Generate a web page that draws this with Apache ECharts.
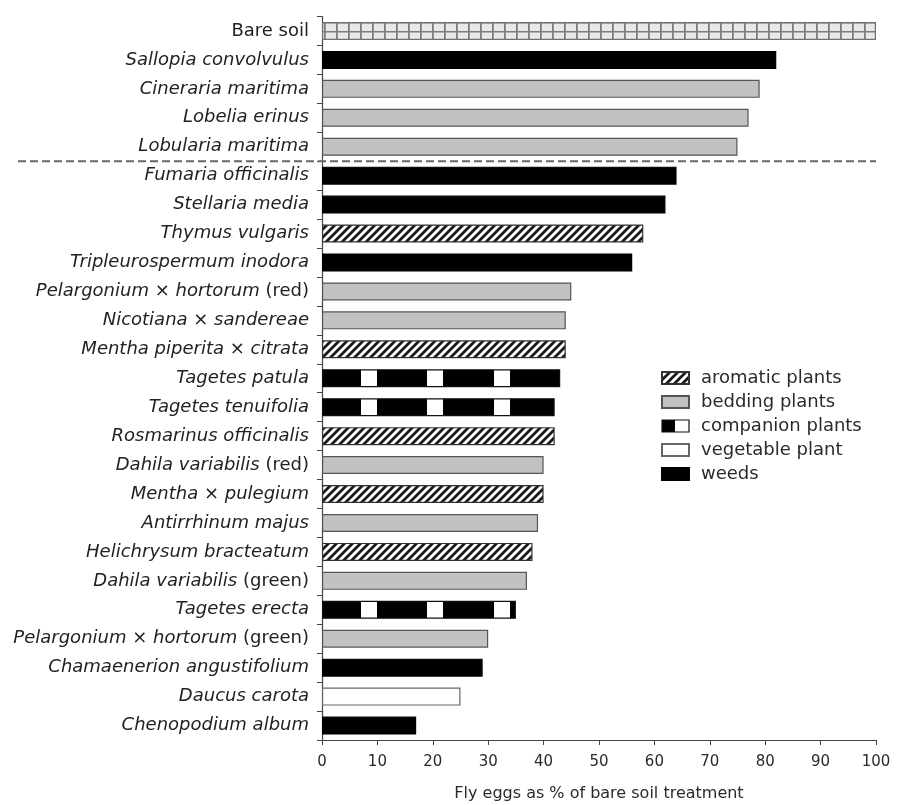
<!DOCTYPE html>
<html>
<head>
<meta charset="utf-8">
<script src="https://cdn.jsdelivr.net/npm/echarts@6/dist/echarts.min.js"></script>
<style>
  html, body { margin: 0; padding: 0; background: #fff; }
  #chart { width: 897px; height: 805px; }
</style>
</head>
<body>
<div id="chart"></div>
<script>
// Plant treatments, top to bottom
const categories = [
  'Bare soil',
  'Sallopia convolvulus',
  'Cineraria maritima',
  'Lobelia erinus',
  'Lobularia maritima',
  'Fumaria officinalis',
  'Stellaria media',
  'Thymus vulgaris',
  'Tripleurospermum inodora',
  'Pelargonium × hortorum (red)',
  'Nicotiana × sandereae',
  'Mentha piperita × citrata',
  'Tagetes patula',
  'Tagetes tenuifolia',
  'Rosmarinus officinalis',
  'Dahila variabilis (red)',
  'Mentha × pulegium',
  'Antirrhinum majus',
  'Helichrysum bracteatum',
  'Dahila variabilis (green)',
  'Tagetes erecta',
  'Pelargonium × hortorum (green)',
  'Chamaenerion angustifolium',
  'Daucus carota',
  'Chenopodium album'
];

// Fly eggs as % of the bare soil treatment
const values = [100, 82, 79, 77, 75, 64, 62, 58, 56, 45, 44, 44, 43, 42, 42, 40, 40, 39, 38, 37, 35, 30, 29, 25, 17];

// Plant type of each treatment
const groups = [
  'bare', 'weeds', 'bedding', 'bedding', 'bedding',
  'weeds', 'weeds', 'aromatic', 'weeds', 'bedding',
  'bedding', 'aromatic', 'companion', 'companion', 'aromatic',
  'bedding', 'aromatic', 'bedding', 'aromatic', 'bedding',
  'companion', 'bedding', 'weeds', 'vegetable', 'weeds'
];

const groupKeys = ['aromatic', 'bedding', 'companion', 'vegetable', 'weeds'];
const legendNames = ['aromatic plants', 'bedding plants', 'companion plants', 'vegetable plant', 'weeds'];

const FONT = 'DejaVu Sans';

// small canvas tiles used as fill patterns
function tile(w, h, draw) {
  const c = document.createElement('canvas');
  c.width = w; c.height = h;
  draw(c.getContext('2d'), w, h);
  return c;
}

const hatchTile = tile(8, 8, g => {
  g.fillStyle = '#fff';
  g.fillRect(0, 0, 8, 8);
  g.strokeStyle = '#1a1a1a';
  g.lineWidth = 2.8;
  g.beginPath();
  g.moveTo(-2, 10); g.lineTo(10, -2);
  g.moveTo(-6, 6); g.lineTo(6, -6);
  g.moveTo(2, 14); g.lineTo(14, 2);
  g.stroke();
});

const gridTile = tile(12, 9, g => {
  g.fillStyle = '#e8e8e8';
  g.fillRect(0, 0, 12, 9);
  g.fillStyle = '#7e7e7e';
  g.fillRect(0, 0, 1.8, 9);
  g.fillRect(0, 4, 12, 1.5);
});

const blockTile = tile(133, 4, g => {
  g.fillStyle = '#000';
  g.fillRect(0, 0, 133, 4);
  g.fillStyle = '#fff';
  g.fillRect(28, 0, 16, 4);
  g.fillRect(95, 0, 16, 4);
});

const styles = {
  bare:      { color: { image: gridTile, repeat: 'repeat' }, borderColor: '#707070' },
  aromatic:  { color: { image: hatchTile, repeat: 'repeat' }, borderColor: '#333' },
  bedding:   { color: '#c2c2c2', borderColor: '#555' },
  companion: { color: { image: blockTile, repeat: 'repeat' }, borderColor: '#111' },
  vegetable: { color: '#ffffff', borderColor: '#666' },
  weeds:     { color: '#000000', borderColor: '#000' }
};

function seriesFor(key, name) {
  return {
    type: 'bar',
    name: name,
    data: values.map((v, i) => (groups[i] === key ? v : '-')),
    barWidth: 18,
    barGap: '-100%',
    itemStyle: Object.assign({ borderWidth: 1.2 }, styles[key]),
    emphasis: { disabled: true },
    animation: false
  };
}

const series = [seriesFor('bare', 'Bare soil')].concat(
  groupKeys.map((k, i) => seriesFor(k, legendNames[i]))
);

const legendData = legendNames.map((n, i) => {
  const item = { name: n };
  if (groupKeys[i] === 'companion') {
    item.itemStyle = {
      color: {
        type: 'linear', x: 0, y: 0, x2: 1, y2: 0,
        colorStops: [
          { offset: 0, color: '#000' }, { offset: 0.48, color: '#000' },
          { offset: 0.48, color: '#fff' }, { offset: 1, color: '#fff' }
        ]
      },
      borderColor: '#111', borderWidth: 1.2
    };
  }
  return item;
});

function labelText(v) {
  if (v === 'Bare soil') return '{n|' + v + '}';
  const m = v.match(/^(.*?)( \(.*\))$/);
  if (m) return '{i|' + m[1] + '}{n|' + m[2] + '}';
  return '{i|' + v + '}';
}

const chart = echarts.init(document.getElementById('chart'), null, { renderer: 'canvas' });

chart.setOption({
  animation: false,
  backgroundColor: '#fff',
  grid: { left: 322, right: 21, top: 16.5, bottom: 65, outerBoundsMode: 'none' },
  legend: {
    data: legendData,
    orient: 'vertical',
    left: 656,
    top: 364,
    icon: 'rect',
    itemWidth: 27,
    itemHeight: 12,
    itemGap: 6,
    textStyle: { fontFamily: FONT, fontSize: 18, color: '#2a2a2a', lineHeight: 18, padding: [0, 0, 0, 7] },
    selectedMode: false
  },
  xAxis: {
    type: 'value',
    min: 0,
    max: 100,
    interval: 10,
    axisLine: { show: true, lineStyle: { color: '#444', width: 1.2 } },
    axisTick: { show: true, length: 5, lineStyle: { color: '#444' } },
    splitLine: { show: false },
    axisLabel: { fontFamily: FONT, fontSize: 15, color: '#2a2a2a', margin: 15 },
    name: 'Fly eggs as % of bare soil treatment',
    nameLocation: 'middle',
    nameGap: 46,
    nameTextStyle: { fontFamily: FONT, fontSize: 16, color: '#2a2a2a' }
  },
  yAxis: {
    type: 'category',
    data: categories,
    inverse: true,
    axisLine: { show: true, lineStyle: { color: '#444', width: 1.2 } },
    axisTick: { show: true, length: 5, lineStyle: { color: '#444' } },
    axisLabel: {
      margin: 13,
      formatter: labelText,
      rich: {
        i: { fontFamily: FONT, fontSize: 18, fontStyle: 'italic', color: '#222' },
        n: { fontFamily: FONT, fontSize: 18, fontStyle: 'normal', color: '#222' }
      }
    }
  },
  series: series
});

// dashed separator between the first group of treatments and the rest
const yA = chart.convertToPixel({ yAxisIndex: 0 }, categories[4]);
const yB = chart.convertToPixel({ yAxisIndex: 0 }, categories[5]);
const xEnd = chart.convertToPixel({ xAxisIndex: 0 }, 100);
const ySep = (yA + yB) / 2;
chart.setOption({
  graphic: [{
    type: 'line',
    silent: true,
    z: 50,
    shape: { x1: 18, y1: ySep, x2: xEnd, y2: ySep },
    style: { stroke: '#666', lineWidth: 2, lineDash: [8, 4] }
  }]
});
</script>
</body>
</html>
